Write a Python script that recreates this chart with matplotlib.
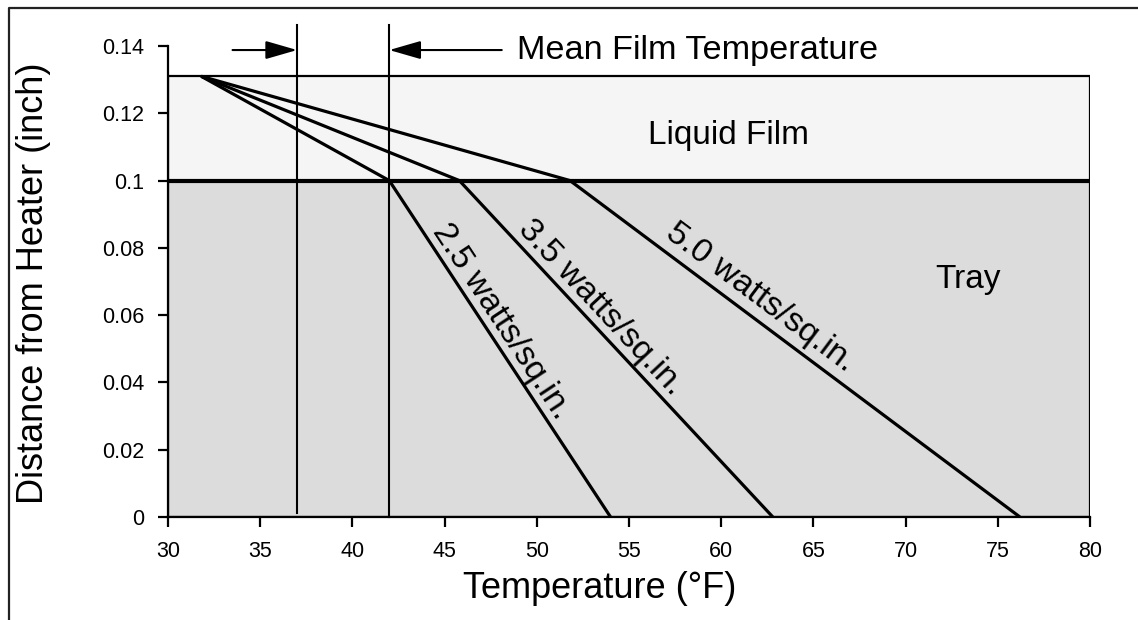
import matplotlib
matplotlib.use("Agg")
import matplotlib.pyplot as plt
from matplotlib.patches import Rectangle
from matplotlib.lines import Line2D
import numpy as np

plt.rcParams['font.family'] = ['Liberation Sans', 'DejaVu Sans']

# Data
series_labels = ["2.5 watts/sq.in.", "3.5 watts/sq.in.", "5.0 watts/sq.in."]
start_temp = [31.8, 31.8, 31.8]          # temperature at film surface
film_top = 0.131                          # film surface distance
interface_temp = [42.0, 45.8, 51.8]       # temperature at film/tray interface (0.1 in)
interface_dist = 0.1
heater_temp = [54.0, 62.8, 76.2]          # temperature at heater (0 in)
mean_film_lines = [37.0, 42.0]
xticks = [30, 35, 40, 45, 50, 55, 60, 65, 70, 75, 80]
yticks = [0, 0.02, 0.04, 0.06, 0.08, 0.1, 0.12, 0.14]
ytick_labels = ["0", "0.02", "0.04", "0.06", "0.08", "0.1", "0.12", "0.14"]
label_pos = [(48.1, 0.058), (53.5, 0.0621), (62.1, 0.0651)]

W, H = 1138, 620
fig = plt.figure(figsize=(W / 100, H / 100), dpi=100)
ax = fig.add_axes([168 / W, 1 - 517 / H, (1090 - 168) / W, (517 - 46) / H])
ax.set_xlim(30, 80)
ax.set_ylim(0, 0.14)
ax.patch.set_visible(False)

# Regions
ax.add_patch(Rectangle((30, 0), 50, interface_dist, facecolor="#dcdcdc",
                       edgecolor="black", lw=1.6, zorder=1))
ax.add_patch(Rectangle((30, interface_dist), 50, film_top - interface_dist,
                       facecolor="#f5f5f5", edgecolor="black", lw=1.6, zorder=1))
ax.plot([30, 80], [interface_dist, interface_dist], color="black", lw=3.0, zorder=3)

# Mean film temperature lines
ax.plot([mean_film_lines[0]] * 2, [0.0012, 0.1463], color="black", lw=1.5,
        clip_on=False, zorder=4)
ax.plot([mean_film_lines[1]] * 2, [0.0, 0.1463], color="black", lw=1.5,
        clip_on=False, zorder=4)

# Temperature profiles
for s, i, h in zip(start_temp, interface_temp, heater_temp):
    ax.plot([s, i, h], [film_top, interface_dist, 0], color="black", lw=2.3,
            solid_capstyle="butt", zorder=5)

# Spines / ticks
for sp in ["top", "right"]:
    ax.spines[sp].set_visible(False)
for sp in ["left", "bottom"]:
    ax.spines[sp].set_linewidth(1.6)
ax.set_xticks(xticks)
ax.set_yticks(yticks)
ax.set_yticklabels(ytick_labels)
ax.tick_params(direction="out", length=7, width=1.6, labelsize=15.5, pad=10)

fig.canvas.draw()

def disp_angle(x0, y0, x1, y1):
    p0 = ax.transData.transform((x0, y0))
    p1 = ax.transData.transform((x1, y1))
    return np.degrees(np.arctan2(p1[1] - p0[1], p1[0] - p0[0]))

for lbl, (tx, ty), i, h in zip(series_labels, label_pos, interface_temp, heater_temp):
    ang = disp_angle(i, interface_dist, h, 0)
    ax.text(tx, ty, lbl, rotation=ang, ha="center", va="center",
            rotation_mode="anchor", fontsize=24.5, zorder=6)

ax.text(60.4, 0.1135, "Liquid Film", ha="center", va="center", fontsize=24)
ax.text(73.4, 0.0705, "Tray", ha="center", va="center", fontsize=24)

# Arrows
arrow_y = 0.1388
astyle = "-|>,head_length=0.97,head_width=0.28"
ax.annotate("", xy=(mean_film_lines[0], arrow_y), xytext=(33.5, arrow_y),
            arrowprops=dict(arrowstyle=astyle, color="black", lw=1.5,
                            shrinkA=0, shrinkB=0, mutation_scale=20),
            annotation_clip=False)
ax.annotate("", xy=(mean_film_lines[1], arrow_y), xytext=(48.1, arrow_y),
            arrowprops=dict(arrowstyle=astyle, color="black", lw=1.5,
                            shrinkA=0, shrinkB=0, mutation_scale=20),
            annotation_clip=False)
ax.text(48.9, arrow_y, "Mean Film Temperature", ha="left", va="center",
        fontsize=24.7, clip_on=False)

# Axis labels
fig.text(600 / W, 1 - 588 / H, "Temperature (°F)", ha="center", va="center",
         fontsize=26)
fig.text(34 / W, 1 - 283 / H, "Distance from Heater (inch)", ha="center",
         va="center", rotation=90, fontsize=26)

# Outer frame
fx = 8.5 / W
fy = 1 - 8 / H
fig.add_artist(Line2D([fx, fx, 1.01], [-0.01, fy, fy], transform=fig.transFigure,
                      color="#222222", lw=1.6))

fig.savefig("out.png", dpi=100)
